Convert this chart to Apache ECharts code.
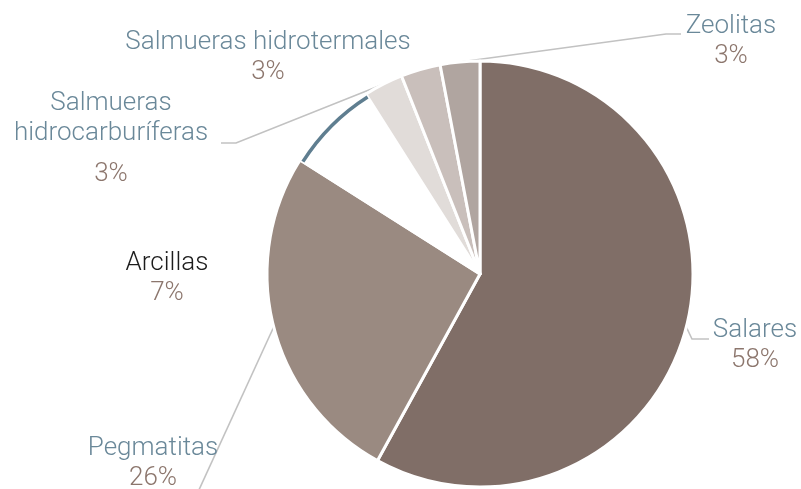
<!DOCTYPE html>
<html>
<head>
<meta charset="utf-8">
<script src="https://cdn.jsdelivr.net/npm/echarts@6/dist/echarts.min.js"></script>
<style>
html,body{margin:0;padding:0;background:#fff;}
#chart{width:801px;height:489px;}
</style>
</head>
<body>
<div id="chart"></div>
<script>
// Data
var categories = ['Salares', 'Pegmatitas', 'Arcillas', 'Salmueras hidrocarburíferas', 'Salmueras hidrotermales', 'Zeolitas'];
var labelNames = ['Salares', 'Pegmatitas', 'Arcillas', 'Salmueras\nhidrocarburíferas', 'Salmueras hidrotermales', 'Zeolitas'];
var values = [58, 26, 7, 3, 3, 3];

// Styles
var sliceColors = ['#806e67', '#9a8a81', '#ffffff', '#e1dcd9', '#c9bfbb', '#b0a5a0'];
var nameColor = '#6a8899';
var pctColor = '#8c766d';
var accentColor = '#5f7e90';

// Label placement (centre of each label block) and leader-line bends
var labelPos = [
  {x: 755, y: 345, line: [[692, 339], [709, 339]]},
  {x: 153, y: 463, line: [[198, 492], [198, 492]]},
  {x: 167, y: 278, line: null},
  {x: 111, y: 144, line: [[236, 143], [221, 143]]},
  {x: 268, y: 57, line: null},
  {x: 731, y: 41, line: [[666, 34], [681, 34]]}
];

var chart = echarts.init(document.getElementById('chart'), null, {renderer: 'canvas'});

var mainData = categories.map(function (c, i) {
  return {
    name: c,
    value: values[i],
    itemStyle: {color: sliceColors[i]},
    labelLine: {show: labelPos[i].line !== null}
  };
});
var ringData = categories.map(function (c, i) {
  return {
    name: c,
    value: values[i],
    itemStyle: {color: i === 2 ? accentColor : 'rgba(0,0,0,0)'}
  };
});

var baseText = {fontSize: 26, lineHeight: 30, fontFamily: 'Roboto', fontWeight: 300};
function txt(extra) { return Object.assign({}, baseText, extra); }

chart.setOption({
  backgroundColor: '#ffffff',
  animation: false,
  textStyle: {fontFamily: 'Roboto'},
  series: [
    {
      type: 'pie',
      center: [480, 274],
      radius: [0, 213],
      startAngle: 90,
      clockwise: true,
      avoidLabelOverlap: false,
      itemStyle: {borderColor: '#ffffff', borderWidth: 3},
      label: {
        show: true,
        position: 'outside',
        align: 'center',
        fontFamily: 'Roboto',
        formatter: function (p) {
          var i = p.dataIndex;
          var nameStyle = i === 2 ? 'dark' : 'name';
          var nm = labelNames[i].split('\n').map(function (s) {
            return '{' + nameStyle + '|' + s + '}';
          }).join('\n');
          var pctStyle = i === 3 ? 'pctGap' : 'pct';
          return nm + '\n{' + pctStyle + '|' + p.value + '%}';
        },
        rich: {
          name: txt({color: nameColor}),
          dark: txt({color: '#1c1c1c'}),
          pct: txt({color: pctColor}),
          pctGap: txt({color: pctColor, lineHeight: 52})
        }
      },
      labelLine: {
        show: true,
        length: 10,
        length2: 10,
        lineStyle: {color: '#c2c2c2', width: 1.6}
      },
      labelLayout: function (params) {
        var i = params.dataIndex;
        var cfg = labelPos[i];
        var out = {x: cfg.x, y: cfg.y, align: 'center', verticalAlign: 'middle'};
        if (cfg.line && params.labelLinePoints) {
          var a = params.labelLinePoints[0];
          out.labelLinePoints = [[a[0], a[1]], cfg.line[0], cfg.line[1]];
        }
        return out;
      },
      data: mainData
    },
    {
      type: 'pie',
      center: [480, 274],
      radius: [208, 211.5],
      startAngle: 90,
      clockwise: true,
      silent: true,
      label: {show: false},
      labelLine: {show: false},
      itemStyle: {borderWidth: 0},
      emphasis: {disabled: true},
      data: ringData
    }
  ]
});
</script>
</body>
</html>
